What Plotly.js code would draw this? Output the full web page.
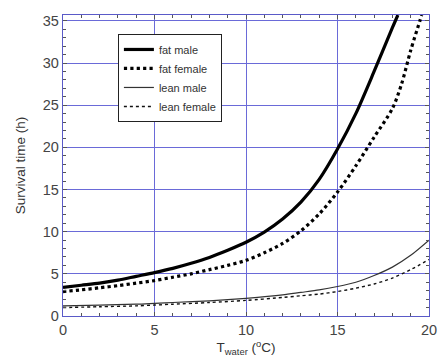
<!DOCTYPE html>
<html>
<head>
<meta charset="utf-8">
<script src="https://cdn.plot.ly/plotly-3.0.1.min.js"></script>
<style>html,body{margin:0;padding:0;background:#fff;}#chart{width:438px;height:362px;}</style>
</head>
<body>
<div id="chart"></div>
<script>
var fatMaleX   = [0, 1, 2, 3, 4, 5, 6, 7, 8, 9, 10, 11, 12, 13, 14, 15, 16, 17, 18, 18.3];
var fatMaleY   = [3.4, 3.65, 3.9, 4.25, 4.7, 5.15, 5.65, 6.25, 6.95, 7.8, 8.75, 9.95, 11.5, 13.5, 16.2, 19.8, 24.0, 29.0, 34.2, 35.7];
var fatFemaleX = [0, 1, 2, 3, 4, 5, 6, 7, 8, 9, 10, 11, 12, 13, 14, 15, 16, 17, 18, 18.5, 19, 19.5, 19.6];
var fatFemaleY = [2.9, 3.1, 3.35, 3.6, 3.9, 4.2, 4.6, 5.0, 5.5, 6.0, 6.6, 7.5, 8.6, 10.1, 12.1, 14.7, 17.8, 21.2, 24.6, 27.5, 31.5, 35.0, 35.7];
var leanX      = [0, 2, 4, 5, 6, 8, 10, 12, 13, 14, 15, 16, 17, 18, 19, 20];
var leanMaleY  = [1.2, 1.3, 1.4, 1.5, 1.6, 1.8, 2.1, 2.5, 2.8, 3.1, 3.5, 4.0, 4.8, 5.8, 7.2, 9.0];
var leanFemaleY= [1.0, 1.1, 1.2, 1.3, 1.4, 1.6, 1.85, 2.2, 2.4, 2.6, 2.9, 3.3, 3.8, 4.5, 5.5, 6.7];
var seriesNames = ["fat male", "fat female", "lean male", "lean female"];

var FONT = 'Liberation Sans, Arial, sans-serif';
var traces = [
  {x: fatMaleX, y: fatMaleY, name: seriesNames[0], mode: 'lines', line: {color: '#000', width: 3.2, shape: 'spline', smoothing: 0.8}},
  {x: fatFemaleX, y: fatFemaleY, name: seriesNames[1], mode: 'lines', line: {color: '#000', width: 3.2, dash: 'dot', shape: 'spline', smoothing: 0.8}},
  {x: leanX, y: leanMaleY, name: seriesNames[2], mode: 'lines', line: {color: '#333', width: 1.2, shape: 'spline', smoothing: 0.8}},
  {x: leanX, y: leanFemaleY, name: seriesNames[3], mode: 'lines', line: {color: '#111', width: 1.4, dash: 'dot', shape: 'spline', smoothing: 0.8}}
];

function axis(range, title, standoff) {
  return {
    range: range, tickmode: 'linear', tick0: 0, dtick: 5,
    showline: true, linecolor: '#5a5ac8', linewidth: 1.2, mirror: 'allticks',
    ticks: 'inside', ticklen: 4, tickcolor: '#555',
    showgrid: true, gridcolor: '#6a6ad8', gridwidth: 1,
    zeroline: false,
    tickfont: {family: FONT, size: 14.5, color: '#444'},
    minor: {ticks: 'inside', ticklen: 3, tickcolor: '#555', dtick: 1, showgrid: false},
    title: {text: title, font: {family: FONT, size: 13.5, color: '#333'}, standoff: standoff}
  };
}

var layout = {
  width: 438, height: 362,
  margin: {l: 63, r: 9, t: 15, b: 46},
  paper_bgcolor: '#fff', plot_bgcolor: '#fff',
  showlegend: true,
  legend: {
    x: 0.15, y: 0.937, xanchor: 'left', yanchor: 'top',
    bgcolor: '#fff', bordercolor: '#222', borderwidth: 1,
    font: {family: FONT, size: 11, color: '#333'},
    tracegroupgap: 0, itemwidth: 30
  },
  xaxis: axis([0, 20], 'T<sub>water</sub> (<sup>o</sup>C)', 4),
  yaxis: axis([0, 35.7], 'Survival time (h)', 14)
};

Plotly.newPlot('chart', traces, layout, {displayModeBar: false, staticPlot: true});
</script>
</body>
</html>
